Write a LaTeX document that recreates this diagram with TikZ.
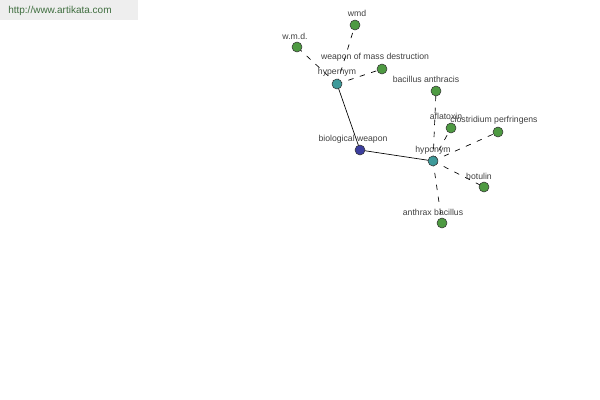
\documentclass[tikz,border=0pt]{standalone}
\usepackage{fontspec}
\setmainfont{Liberation Sans}
\usetikzlibrary{backgrounds}
\definecolor{leaf}{HTML}{4E9A42}
\definecolor{hub}{HTML}{3E9A9A}
\definecolor{core}{HTML}{3C3E9E}
\definecolor{lbl}{HTML}{404040}
\definecolor{hdrbg}{HTML}{EEEEEE}
\definecolor{hdrtx}{HTML}{3F6E3F}
\begin{document}
\begin{tikzpicture}[x=0.75pt,y=-0.75pt,
  dot/.style={circle,draw=black!80,line width=0.4pt,minimum size=7.5pt,inner sep=0pt},
  leafdot/.style={dot,fill=leaf},
  hubdot/.style={dot,fill=hub},
  coredot/.style={dot,fill=core},
  lab/.style={font=\fontsize{6.5}{7}\selectfont,text=lbl,inner sep=0pt},
  solidlink/.style={draw=black,line width=0.5pt},
  dashlink/.style={draw=black,line width=0.5pt,dash pattern=on 4pt off 5pt}]
\useasboundingbox (0,0) rectangle (600,400);

\node[hubdot] (hyper) at (337,84) {};
\node[coredot] (bio) at (360,150) {};
\node[hubdot] (hypo) at (433,161) {};
\node[leafdot] (wmd) at (355,25) {};
\node[leafdot] (wmd2) at (297,47) {};
\node[leafdot] (womd) at (382,69) {};
\node[leafdot] (bant) at (436,91) {};
\node[leafdot] (afla) at (451,128) {};
\node[leafdot] (clos) at (498,132) {};
\node[leafdot] (botu) at (484,187) {};
\node[leafdot] (anth) at (442,223) {};

\begin{pgfonlayer}{background}
\fill[hdrbg] (0,0) rectangle (138,20);
\draw[solidlink] (hyper.center) -- (bio.center);
\draw[solidlink] (bio.center) -- (hypo.center);
\draw[dashlink] (hyper.center) -- (wmd.center);
\draw[dashlink] (hyper.center) -- (wmd2.center);
\draw[dashlink] (hyper.center) -- (womd.center);
\draw[dashlink] (hypo.center) -- (bant.center);
\draw[dashlink] (hypo.center) -- (afla.center);
\draw[dashlink] (hypo.center) -- (clos.center);
\draw[dashlink] (hypo.center) -- (botu.center);
\draw[dashlink] (hypo.center) -- (anth.center);
\end{pgfonlayer}

\node[font=\fontsize{7.5}{9}\selectfont,text=hdrtx,anchor=west,inner sep=0pt] (hdr) at (8,11) {http://www.artikata.com};
\node[lab] (lwmd) at (357,13) {wmd};
\node[lab] (lwmd2) at (295,36) {w.m.d.};
\node[lab] (lwomd) at (375,57) {weapon of mass destruction};
\node[lab] (lhyper) at (337,72) {hypernym};
\node[lab] (lbant) at (426,79) {bacillus anthracis};
\node[lab] (lafla) at (446,116) {aflatoxin};
\node[lab] (lclos) at (494,120) {clostridium perfringens};
\node[lab] (lbio) at (353,139) {biological weapon};
\node[lab] (lhypo) at (433,150) {hyponym};
\node[lab] (lbotu) at (479,176) {botulin};
\node[lab] (lanth) at (433,212) {anthrax bacillus};
\end{tikzpicture}
\end{document}
